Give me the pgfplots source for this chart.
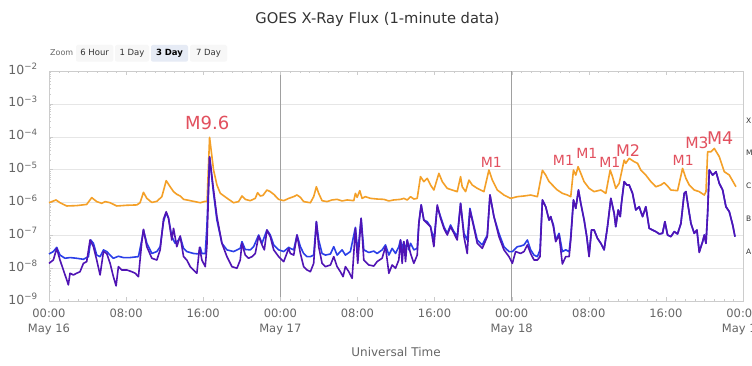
\documentclass[border=0pt]{standalone}
\usepackage{pgfplots}
\pgfplotsset{compat=1.18}
\usepackage{pgfplotstable}
\usepackage{fontspec}
\setmainfont{DejaVu Sans}
\definecolor{goesorange}{HTML}{F4A028}
\definecolor{goesblue}{HTML}{2B3FE8}
\definecolor{goespurple}{HTML}{5014B4}
\definecolor{flarered}{HTML}{E2505E}
\definecolor{txtdark}{HTML}{333333}
\definecolor{txtgray}{HTML}{666666}
\definecolor{gridgray}{HTML}{E6E6E6}
\definecolor{axisgray}{HTML}{CCCCCC}
\definecolor{daygray}{HTML}{A0A0A0}
\definecolor{btnbg}{HTML}{F7F7F7}
\definecolor{btnsel}{HTML}{E6EBF5}

\pgfplotstableread{
h f
0 9.8e-7
0.73 1.19e-6
1.14 9.8e-7
1.84 7.8e-7
2.87 8.0e-7
3.91 8.7e-7
4.43 1.40e-6
4.95 1.06e-6
5.47 9.4e-7
5.82 1.06e-6
6.34 9.8e-7
7.03 7.8e-7
8.07 8.2e-7
9.11 8.4e-7
9.45 9.8e-7
9.80 2.03e-6
10.15 1.33e-6
10.67 1.0e-6
11.19 1.08e-6
11.71 1.50e-6
12.16 4.6e-6
12.57 3.0e-6
12.92 2.13e-6
13.26 1.77e-6
13.61 1.57e-6
13.96 1.24e-6
14.30 1.19e-6
14.99 1.08e-6
15.69 9.8e-7
16.21 1.08e-6
16.40 1.05e-6
16.66 9.6e-5
17.07 9.8e-6
17.42 3.4e-6
17.77 1.9e-6
18.46 1.35e-6
19.15 9.8e-7
19.67 1.06e-6
20.02 1.57e-6
20.36 1.24e-6
20.88 1.13e-6
21.40 1.33e-6
21.64 1.98e-6
21.92 1.57e-6
22.20 1.64e-6
22.61 2.39e-6
22.96 2.13e-6
23.31 1.77e-6
23.83 1.24e-6
24.35 1.13e-6
24.87 1.33e-6
25.39 1.50e-6
25.73 1.69e-6
26.08 1.43e-6
26.42 1.06e-6
27.12 9.8e-7
27.46 1.50e-6
27.74 3.0e-6
27.98 1.89e-6
28.33 1.13e-6
28.85 1.06e-6
29.37 1.19e-6
29.89 1.24e-6
30.41 1.11e-6
30.93 1.19e-6
31.62 1.13e-6
31.79 1.89e-6
31.97 1.43e-6
32.24 2.28e-6
32.48 1.33e-6
32.83 1.50e-6
33.35 1.33e-6
34.04 1.27e-6
34.74 1.24e-6
35.26 1.11e-6
35.77 1.19e-6
36.47 1.24e-6
36.81 1.33e-6
37.16 1.19e-6
37.51 1.50e-6
37.85 1.27e-6
38.20 1.33e-6
38.54 6.1e-6
38.89 4.3e-6
39.24 5.4e-6
39.58 3.4e-6
39.93 2.39e-6
40.45 7.7e-6
40.80 4.3e-6
41.31 2.69e-6
41.83 2.39e-6
42.35 2.13e-6
42.70 6.1e-6
42.87 3.0e-6
43.22 2.13e-6
43.57 4.8e-6
43.91 3.4e-6
44.43 2.69e-6
45.12 2.13e-6
45.64 9.7e-6
45.99 4.8e-6
46.51 2.39e-6
47.20 1.68e-6
47.90 1.33e-6
48.59 1.50e-6
49.28 1.57e-6
49.97 1.68e-6
50.67 1.50e-6
51.19 9.5e-6
51.53 6.8e-6
51.88 4.3e-6
52.22 3.4e-6
52.74 2.39e-6
53.26 1.89e-6
53.78 1.68e-6
54.13 1.50e-6
54.41 9.7e-6
54.65 6.8e-6
54.89 1.22e-5
55.17 7.7e-6
55.51 4.3e-6
56.03 2.69e-6
56.55 2.13e-6
57.25 2.39e-6
57.77 1.89e-6
58.22 9.7e-6
58.46 6.1e-6
58.80 2.69e-6
59.15 3.8e-6
59.67 1.95e-5
59.84 1.55e-5
60.19 2.2e-5
60.71 1.74e-5
61.06 1.55e-5
61.40 9.7e-6
61.92 6.8e-6
62.44 4.3e-6
62.96 3.0e-6
63.48 3.4e-6
63.83 4.0e-6
64.17 3.16e-6
64.52 2.39e-6
65.21 2.28e-6
65.73 1.09e-5
66.08 5.4e-6
66.42 3.4e-6
66.94 2.39e-6
67.46 2.13e-6
67.98 1.68e-6
68.16 2.13e-6
68.33 3.5e-5
68.68 3.5e-5
69.02 4.4e-5
69.54 2.47e-5
70.06 8.6e-6
70.58 6.8e-6
71.27 3.0e-6
}\longch

\pgfplotstableread{
h f
0 2.7e-8
0.45 3.2e-8
0.80 4.3e-8
1.14 2.5e-8
1.66 2.0e-8
2.18 2.1e-8
2.87 2.0e-8
3.57 1.86e-8
4.09 2.24e-8
4.33 7.2e-8
4.61 5.7e-8
4.95 2.5e-8
5.30 2.24e-8
5.65 3.6e-8
5.99 3.2e-8
6.34 2.5e-8
6.68 2.0e-8
7.20 2.3e-8
7.72 2.1e-8
8.42 2.1e-8
9.28 2.24e-8
9.63 7.2e-8
9.80 1.45e-7
10.15 5.7e-8
10.67 2.8e-8
11.19 3.2e-8
11.53 4.5e-8
11.88 2.6e-7
12.16 4.9e-7
12.40 3.3e-7
12.74 9.1e-8
13.09 5.7e-8
13.44 7.2e-8
13.61 9.1e-8
13.96 4.0e-8
14.30 3.2e-8
14.99 2.8e-8
15.51 2.7e-8
15.69 4.3e-8
15.86 2.8e-8
16.21 2.8e-8
16.38 1.83e-7
16.66 2.45e-5
17.07 1.89e-6
17.42 2.9e-7
17.94 5.7e-8
18.46 3.6e-8
19.15 3.2e-8
19.84 4.0e-8
20.02 6.4e-8
20.36 3.7e-8
20.88 3.6e-8
21.23 4.5e-8
21.75 1.02e-7
22.10 5.7e-8
22.61 1.45e-7
22.96 1.02e-7
23.31 5.1e-8
23.83 3.6e-8
24.35 3.2e-8
24.87 4.3e-8
25.04 4.0e-8
25.39 3.6e-8
25.73 1.02e-7
26.08 4.5e-8
26.42 2.8e-8
26.77 2.24e-8
27.12 2.24e-8
27.46 2.5e-8
27.74 2.6e-7
27.98 7.2e-8
28.33 2.8e-8
28.68 2.5e-8
29.20 2.7e-8
29.54 4.5e-8
29.89 2.5e-8
30.41 3.6e-8
30.75 2.5e-8
31.27 3.2e-8
31.79 1.75e-7
32.03 2.8e-8
32.38 3.3e-7
32.66 3.6e-8
33.18 3.0e-8
33.70 3.3e-8
34.04 2.8e-8
34.56 3.6e-8
34.91 5.1e-8
35.26 2.5e-8
35.60 4.0e-8
35.95 2.8e-8
36.29 4.5e-8
36.47 7.2e-8
36.64 3.6e-8
36.81 6.4e-8
36.99 3.2e-8
37.16 7.2e-8
37.33 3.6e-8
37.51 5.7e-8
37.85 3.6e-8
38.20 4.0e-8
38.37 2.3e-7
38.61 8.4e-7
38.89 2.9e-7
39.24 2.6e-7
39.58 1.83e-7
39.93 7.2e-8
40.28 7.4e-7
40.62 3.7e-7
40.97 1.83e-7
41.32 1.15e-7
41.66 2.06e-7
42.01 1.29e-7
42.35 9.1e-8
42.70 9.4e-7
43.05 1.15e-7
43.39 7.2e-8
43.67 6.6e-7
44.02 2.3e-7
44.43 7.2e-8
44.95 5.1e-8
45.47 1.02e-7
45.75 1.69e-6
46.16 3.7e-7
46.68 1.15e-7
47.20 4.5e-8
47.72 3.2e-8
48.07 3.2e-8
48.59 4.5e-8
48.93 4.7e-8
49.28 5.1e-8
49.63 7.2e-8
49.97 3.6e-8
50.32 2.5e-8
50.67 2.24e-8
50.94 3.6e-8
51.19 1.19e-6
51.53 7.4e-7
51.88 2.9e-7
52.05 3.7e-7
52.33 2.06e-7
52.57 7.2e-8
52.92 1.15e-7
53.26 3.2e-8
53.61 3.6e-8
53.96 3.2e-8
54.13 9.1e-8
54.41 1.19e-6
54.65 6.6e-7
54.93 2.39e-6
55.17 9.4e-7
55.52 2.9e-7
55.79 9.1e-8
56.03 2.5e-8
56.28 1.45e-7
56.55 1.45e-7
56.90 8.1e-8
57.25 5.7e-8
57.59 3.6e-8
57.94 1.83e-7
58.29 1.33e-6
58.63 4.7e-7
58.80 1.83e-7
59.05 5.9e-7
59.26 3.7e-7
59.39 9.4e-7
59.67 4.3e-6
59.95 3.4e-6
60.19 3.4e-6
60.54 1.89e-6
60.88 5.9e-7
61.23 7.4e-7
61.58 3.7e-7
61.92 7.4e-7
62.27 1.63e-7
62.61 1.45e-7
62.96 1.29e-7
63.31 1.10e-7
63.65 1.15e-7
63.90 2.6e-7
64.17 1.02e-7
64.52 9.1e-8
64.87 1.29e-7
65.21 1.10e-7
65.56 2.3e-7
65.90 1.89e-6
66.08 2.13e-6
66.32 7.4e-7
66.60 2.3e-7
66.94 1.15e-7
67.22 1.45e-7
67.46 3.2e-8
67.81 6.4e-8
67.98 1.02e-7
68.16 5.7e-8
68.33 4.7e-7
68.50 9.7e-6
68.85 6.8e-6
69.20 8.6e-6
69.54 3.8e-6
69.89 2.39e-6
70.23 7.4e-7
70.58 5.2e-7
70.93 2.06e-7
71.17 9.1e-8
}\shortB

\pgfplotstableread{
h f
0 1.40e-8
0.45 1.77e-8
0.80 4.0e-8
1.14 1.77e-8
1.49 8.8e-9
1.84 4.4e-9
2.01 3.1e-9
2.18 7.0e-9
2.53 6.2e-9
2.87 7.0e-9
3.22 7.8e-9
3.57 1.40e-8
3.91 1.58e-8
4.26 7.2e-8
4.61 4.5e-8
4.95 1.77e-8
5.30 6.2e-9
5.65 3.2e-8
5.99 2.8e-8
6.34 1.40e-8
6.68 5.5e-9
6.96 2.9e-9
7.20 1.11e-8
7.55 8.8e-9
8.07 8.8e-9
8.59 7.8e-9
8.94 7.0e-9
9.28 5.5e-9
9.63 6.4e-8
9.80 1.52e-7
10.15 4.5e-8
10.67 2.0e-8
11.19 1.77e-8
11.53 3.6e-8
11.88 3.1e-7
12.16 5.2e-7
12.40 3.3e-7
12.74 7.2e-8
12.92 1.63e-7
13.26 4.5e-8
13.61 9.5e-8
13.96 2.24e-8
14.30 1.77e-8
14.65 1.11e-8
14.99 8.8e-9
15.34 7.0e-9
15.62 4.3e-8
15.86 1.77e-8
16.21 1.11e-8
16.38 4.5e-8
16.66 2.45e-5
17.07 2.39e-6
17.42 3.7e-7
17.94 5.7e-8
18.46 2.24e-8
18.98 1.11e-8
19.50 9.9e-9
19.84 1.77e-8
20.02 5.7e-8
20.36 2.5e-8
20.71 2.0e-8
21.06 2.24e-8
21.40 2.8e-8
21.75 9.5e-8
22.10 5.1e-8
22.34 3.6e-8
22.61 1.45e-7
22.96 9.1e-8
23.31 3.6e-8
23.83 2.24e-8
24.35 1.58e-8
24.87 4.0e-8
25.04 2.8e-8
25.39 2.5e-8
25.73 1.02e-7
26.08 2.8e-8
26.42 1.11e-8
26.77 8.8e-9
27.12 7.8e-9
27.46 1.40e-8
27.74 2.6e-7
27.98 4.5e-8
28.33 1.40e-8
28.68 1.11e-8
29.20 1.25e-8
29.54 2.24e-8
29.89 1.11e-8
30.23 7.8e-9
30.51 5.5e-9
30.75 1.11e-8
31.10 7.8e-9
31.45 4.9e-9
31.79 1.63e-7
32.03 1.40e-8
32.38 3.3e-7
32.66 1.77e-8
33.18 1.25e-8
33.70 1.16e-8
34.04 1.58e-8
34.56 2.0e-8
34.91 4.5e-8
35.26 7.0e-9
35.60 1.25e-8
35.95 9.9e-9
36.29 1.77e-8
36.47 7.2e-8
36.64 1.40e-8
36.81 6.4e-8
36.99 1.58e-8
37.16 7.2e-8
37.51 2.8e-8
37.85 1.40e-8
38.20 2.5e-8
38.37 2.3e-7
38.61 8.4e-7
38.89 2.9e-7
39.24 2.3e-7
39.58 1.83e-7
39.93 4.5e-8
40.28 8.4e-7
40.62 3.3e-7
40.97 1.63e-7
41.32 1.02e-7
41.66 1.83e-7
42.01 1.15e-7
42.35 7.2e-8
42.70 9.4e-7
43.05 9.1e-8
43.39 2.8e-8
43.67 5.9e-7
44.02 2.06e-7
44.43 5.7e-8
44.95 4.0e-8
45.47 9.1e-8
45.75 1.69e-6
46.16 3.7e-7
46.68 9.1e-8
47.20 3.6e-8
47.72 2.24e-8
48.07 1.40e-8
48.41 3.2e-8
48.93 2.8e-8
49.28 3.2e-8
49.63 5.1e-8
49.97 2.8e-8
50.32 1.77e-8
50.67 1.77e-8
50.94 2.24e-8
51.19 1.19e-6
51.53 7.4e-7
51.88 2.9e-7
52.05 3.7e-7
52.33 1.83e-7
52.57 6.4e-8
52.92 1.02e-7
53.26 1.34e-8
53.61 2.24e-8
53.96 2.24e-8
54.13 7.2e-8
54.41 1.19e-6
54.65 6.6e-7
54.93 2.39e-6
55.17 9.4e-7
55.52 2.9e-7
55.79 9.1e-8
56.03 2.24e-8
56.28 1.45e-7
56.55 1.45e-7
56.90 8.1e-8
57.25 5.7e-8
57.59 3.6e-8
57.94 1.83e-7
58.29 1.33e-6
58.63 4.7e-7
58.80 1.83e-7
59.05 5.9e-7
59.26 3.7e-7
59.39 9.4e-7
59.67 4.3e-6
59.95 3.4e-6
60.19 3.4e-6
60.54 1.89e-6
60.88 5.9e-7
61.23 7.4e-7
61.58 3.7e-7
61.92 7.4e-7
62.27 1.63e-7
62.61 1.45e-7
62.96 1.29e-7
63.31 1.10e-7
63.65 1.15e-7
63.90 2.6e-7
64.17 1.02e-7
64.52 9.1e-8
64.87 1.29e-7
65.21 1.10e-7
65.56 2.3e-7
65.90 1.89e-6
66.08 2.13e-6
66.32 7.4e-7
66.60 2.3e-7
66.94 1.15e-7
67.22 1.45e-7
67.46 3.0e-8
67.81 6.4e-8
67.98 1.02e-7
68.16 5.7e-8
68.33 4.7e-7
68.50 9.7e-6
68.85 6.8e-6
69.20 8.6e-6
69.54 3.8e-6
69.89 2.39e-6
70.23 7.4e-7
70.58 5.2e-7
70.93 2.06e-7
71.17 9.1e-8
}\shortA

\begin{document}
\begin{tikzpicture}
\path[use as bounding box] (0,0) rectangle (752pt,365pt);
\fill[white] (0,0) rectangle (752pt,365pt);
% title
\node[anchor=base, text=txtdark, font=\fontsize{14.7}{17}\selectfont, inner sep=0pt] at (377.5pt,341.7pt) {GOES X-Ray Flux (1-minute data)};
% zoom buttons
\node[anchor=base west, text=txtgray, font=\fontsize{8}{9}\selectfont, inner sep=0pt] at (50pt,309pt) {Zoom};
\fill[btnbg, rounded corners=2pt] (76pt,303.3pt) rectangle (113.3pt,320pt);
\fill[btnbg, rounded corners=2pt] (115pt,303.3pt) rectangle (149pt,320pt);
\fill[btnsel, rounded corners=2pt] (151pt,303.3pt) rectangle (188pt,320pt);
\fill[btnbg, rounded corners=2pt] (190pt,303.3pt) rectangle (227pt,320pt);
\node[anchor=base, text=txtdark, font=\fontsize{8.5}{9}\selectfont, inner sep=0pt] at (94.6pt,309pt) {6 Hour};
\node[anchor=base, text=txtdark, font=\fontsize{8.5}{9}\selectfont, inner sep=0pt] at (132pt,309pt) {1 Day};
\node[anchor=base, text=black, font=\fontsize{8.5}{9}\selectfont\bfseries, inner sep=0pt] at (169.5pt,309pt) {3 Day};
\node[anchor=base, text=txtdark, font=\fontsize{8.5}{9}\selectfont, inner sep=0pt] at (208.5pt,309pt) {7 Day};
% x axis title
\node[anchor=base, text=txtgray, font=\fontsize{12}{14}\selectfont, inner sep=0pt] at (396pt,8.3pt) {Universal Time};
\begin{axis}[
  at={(49pt,64pt)}, anchor=south west,
  scale only axis, width=694pt, height=230pt,
  xmin=0, xmax=72, ymin=1e-9, ymax=1e-2, ymode=log,
  clip=false,
  axis line style={draw=axisgray},
  xtick={0,8,...,72},
  xticklabels={{00:00\\May 16},08:00,16:00,{00:00\\May 17},08:00,16:00,{00:00\\May 18},08:00,16:00,{00:00\\May 19}},
  minor x tick num=7,
  ytick={1e-9,1e-8,1e-7,1e-6,1e-5,1e-4,1e-3,1e-2},
  yticklabels={10\textsuperscript{−9},10\textsuperscript{−8},10\textsuperscript{−7},10\textsuperscript{−6},10\textsuperscript{−5},10\textsuperscript{−4},10\textsuperscript{−3},10\textsuperscript{−2}},
  tick align=inside,
  major tick length=4pt, minor tick length=2pt,
  tick style={draw=axisgray},
  ytick pos=left,
  ymajorgrids, major grid style={draw=gridgray},
  extra x ticks={24,48},
  extra x tick labels={},
  extra x tick style={grid=major, major grid style={draw=daygray, line width=0.7pt}},
  xticklabel style={font=\fontsize{11.5}{14.7}\selectfont, text=txtgray, align=center, anchor=north, inner sep=0pt, yshift=-8pt},
  yticklabel style={font=\fontsize{12.5}{14}\selectfont, text=txtgray, anchor=base east, inner sep=0pt, xshift=-11pt, yshift=-3pt},
]
\addplot[goesorange, line width=1.6pt, line join=round] table[x=h, y=f]{\longch};
\addplot[goesblue, line width=1.6pt, line join=round] table[x=h, y=f]{\shortB};
\addplot[goespurple, line width=1.6pt, line join=round] table[x=h, y=f]{\shortA};
% flare labels
\node[text=flarered, font=\fontsize{18}{18}\selectfont] at (axis cs:16.42,2.62e-4) {M9.6};
\node[text=flarered, font=\fontsize{14}{14}\selectfont] at (axis cs:45.89,1.67e-5) {M1};
\node[text=flarered, font=\fontsize{14}{14}\selectfont] at (axis cs:53.37,1.96e-5) {M1};
\node[text=flarered, font=\fontsize{14}{14}\selectfont] at (axis cs:55.79,3.1e-5) {M1};
\node[text=flarered, font=\fontsize{14}{14}\selectfont] at (axis cs:58.18,1.67e-5) {M1};
\node[text=flarered, font=\fontsize{16}{16}\selectfont] at (axis cs:60.08,3.9e-5) {M2};
\node[text=flarered, font=\fontsize{14}{14}\selectfont] at (axis cs:65.8,1.96e-5) {M1};
\node[text=flarered, font=\fontsize{15.5}{15.5}\selectfont] at (axis cs:67.22,6.3e-5) {M3};
\node[text=flarered, font=\fontsize{17.5}{17.5}\selectfont] at (axis cs:69.64,8.95e-5) {M4};
% class letters
\node[anchor=west, text=txtdark, font=\fontsize{7.5}{8}\selectfont, inner sep=0pt] at (axis cs:72.3,3.16e-4) {X};
\node[anchor=west, text=txtdark, font=\fontsize{7.5}{8}\selectfont, inner sep=0pt] at (axis cs:72.3,3.16e-5) {M};
\node[anchor=west, text=txtdark, font=\fontsize{7.5}{8}\selectfont, inner sep=0pt] at (axis cs:72.3,3.16e-6) {C};
\node[anchor=west, text=txtdark, font=\fontsize{7.5}{8}\selectfont, inner sep=0pt] at (axis cs:72.3,3.16e-7) {B};
\node[anchor=west, text=txtdark, font=\fontsize{7.5}{8}\selectfont, inner sep=0pt] at (axis cs:72.3,3.16e-8) {A};
\end{axis}
\end{tikzpicture}
\end{document}
